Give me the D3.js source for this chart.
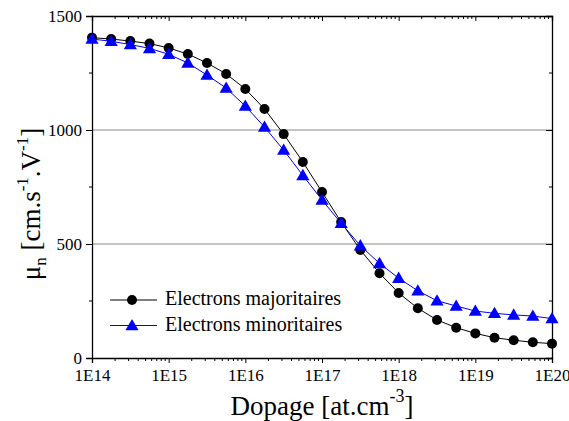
<!DOCTYPE html>
<html>
<head>
<meta charset="utf-8">
<script src="https://cdn.jsdelivr.net/npm/d3@7"></script>
</head>
<body style="margin:0; background:#fff">
<svg id="chart" width="569" height="421"></svg>
<script>
// doping levels, 4 points per decade (log10 of concentration)
var logDoping = [14, 14.25, 14.5, 14.75, 15, 15.25, 15.5, 15.75, 16, 16.25,
  16.5, 16.75, 17, 17.25, 17.5, 17.75, 18, 18.25, 18.5, 18.75, 19, 19.25,
  19.5, 19.75, 20];
var majoritaires = [1405, 1399, 1390, 1379, 1360, 1333, 1294, 1246, 1180, 1092,
  982, 860, 728, 596, 474, 372, 285, 218, 167, 133, 108, 89, 78, 69, 63];
var minoritaires = [1399, 1389, 1375, 1358, 1332, 1294, 1241, 1184, 1105, 1013,
  912, 801, 693, 591, 493, 415, 350, 295, 251, 228, 206, 196, 189, 184, 173];
var xTickLabels = ["1E14", "1E15", "1E16", "1E17", "1E18", "1E19", "1E20"];
var yTicks = [0, 500, 1000, 1500];
var gridValues = [500, 1000];

var margin = {top: 16, left: 92, bottom: 63, right: 17};
var width = 569, height = 421;
var serif = "'Liberation Serif', serif";

var svg = d3.select("#chart");
var xScale = d3.scaleLog()
  .domain([1e14, 1e20])
  .range([margin.left, width - margin.right]);
var yScale = d3.scaleLinear()
  .domain([0, 1500])
  .range([height - margin.bottom, margin.top]);

var x0 = margin.left, x1 = width - margin.right;
var y0 = height - margin.bottom, y1 = margin.top;

// grid lines
svg.selectAll(".grid")
  .data(gridValues)
  .enter().append("line")
    .attr("x1", x0).attr("x2", x1)
    .attr("y1", (d) => yScale(d)).attr("y2", (d) => yScale(d))
    .attr("stroke", "#888").attr("stroke-width", 1);

// minor tick positions on the log axis
var minorX = [];
for (var e = 14; e < 20; e++) {
  for (var m = 2; m <= 9; m++) minorX.push(m * Math.pow(10, e));
}
var majorX = xTickLabels.map((d, i) => Math.pow(10, 14 + i));

var xAxisBottom = d3.axisBottom(xScale).tickValues(majorX)
  .tickFormat((d, i) => xTickLabels[i]).tickSize(5).tickPadding(6);
var gx = svg.append("g")
  .attr("transform", "translate(0," + y0 + ")")
  .call(xAxisBottom);
gx.selectAll("g.minor").data(minorX).enter().append("line")
  .attr("x1", (d) => xScale(d)).attr("x2", (d) => xScale(d))
  .attr("y1", 0).attr("y2", 3).attr("stroke", "#000");

var gxTop = svg.append("g")
  .attr("transform", "translate(0," + y1 + ")")
  .call(d3.axisTop(xScale).tickValues(majorX).tickFormat("").tickSize(-5));
gxTop.selectAll("g.minor").data(minorX).enter().append("line")
  .attr("x1", (d) => xScale(d)).attr("x2", (d) => xScale(d))
  .attr("y1", 0).attr("y2", 3).attr("stroke", "#000");

var gy = svg.append("g")
  .attr("transform", "translate(" + x0 + ",0)")
  .call(d3.axisLeft(yScale).tickValues(yTicks).tickFormat(d3.format("d"))
    .tickSize(6).tickPadding(4));
gy.selectAll("g.minor").data([250, 750, 1250]).enter().append("line")
  .attr("x1", 0).attr("x2", -3)
  .attr("y1", (d) => yScale(d)).attr("y2", (d) => yScale(d))
  .attr("stroke", "#000");

var gyRight = svg.append("g")
  .attr("transform", "translate(" + x1 + ",0)")
  .call(d3.axisRight(yScale).tickValues(yTicks).tickFormat("").tickSize(-6));
gyRight.selectAll("g.minor").data([250, 750, 1250]).enter().append("line")
  .attr("x1", 0).attr("x2", -3)
  .attr("y1", (d) => yScale(d)).attr("y2", (d) => yScale(d))
  .attr("stroke", "#000");

svg.selectAll(".domain").attr("stroke", "#000").attr("stroke-width", 1.3);
svg.selectAll(".tick line").attr("stroke", "#000");
svg.selectAll(".tick text")
  .attr("font-size", 17)
  .attr("fill", "#000");

// series
var series = [
  {name: "Electrons majoritaires", values: majoritaires, color: "#000", shape: "circle"},
  {name: "Electrons minoritaires", values: minoritaires, color: "#0000ff", shape: "triangle"}
];

var line = d3.line()
  .x((d) => xScale(Math.pow(10, d[0])))
  .y((d) => yScale(d[1]));

function drawMarker(sel, shape, color) {
  if (shape === "circle") {
    sel.append("circle").attr("r", 5).attr("fill", color);
  } else {
    sel.append("path")
      .attr("d", d3.symbol().type(d3.symbolTriangle).size(75))
      .attr("transform", "translate(0,1)")
      .attr("fill", color);
  }
}

series.forEach(function (s) {
  var pts = logDoping.map((d, i) => [d, s.values[i]]);
  svg.append("path")
    .datum(pts)
    .attr("d", line)
    .attr("fill", "none")
    .attr("stroke", s.color)
    .attr("stroke-width", 1);
  var g = svg.append("g");
  pts.forEach(function (p) {
    var m = g.append("g")
      .attr("transform", "translate(" + xScale(Math.pow(10, p[0])) + "," + yScale(p[1]) + ")");
    drawMarker(m, s.shape, s.color);
  });
});

// legend
var legend = svg.append("g").attr("transform", "translate(110,300)");
series.forEach(function (s, i) {
  var row = legend.append("g").attr("transform", "translate(0," + (i * 25.5) + ")");
  row.append("line").attr("x1", 0).attr("x2", 47).attr("y1", 0).attr("y2", 0)
    .attr("stroke", s.color).attr("stroke-width", 1);
  var m = row.append("g").attr("transform", "translate(22,0)");
  drawMarker(m, s.shape, s.color);
  row.append("text")
    .attr("x", 55).attr("y", 5)
    .attr("font-size", 20)
    .text(s.name);
});

// axis titles
var xTitle = svg.append("text")
  .attr("x", (x0 + x1) / 2)
  .attr("y", 415)
  .attr("text-anchor", "middle")
  .attr("font-size", 27);
xTitle.append("tspan").text("Dopage [at.cm");
xTitle.append("tspan").attr("dy", -13).attr("font-size", 18).text("-3");
xTitle.append("tspan").attr("dy", 13).text("]");

var yTitle = svg.append("text")
  .attr("transform", "translate(40,204) rotate(-90)")
  .attr("text-anchor", "middle")
  .attr("font-size", 27);
yTitle.append("tspan").text("μ");
yTitle.append("tspan").attr("dy", 6).attr("font-size", 17).text("n");
yTitle.append("tspan").attr("dy", -6).text(" [cm.s");
yTitle.append("tspan").attr("dy", -12).attr("font-size", 17).text("-1");
yTitle.append("tspan").attr("dy", 12).text(".V");
yTitle.append("tspan").attr("dy", -12).attr("font-size", 17).text("-1");
yTitle.append("tspan").attr("dy", 12).text("]");

// serif everywhere, like the original figure
svg.selectAll("g").attr("font-family", null);
svg.selectAll("text").style("font-family", serif);
</script>
</body>
</html>
